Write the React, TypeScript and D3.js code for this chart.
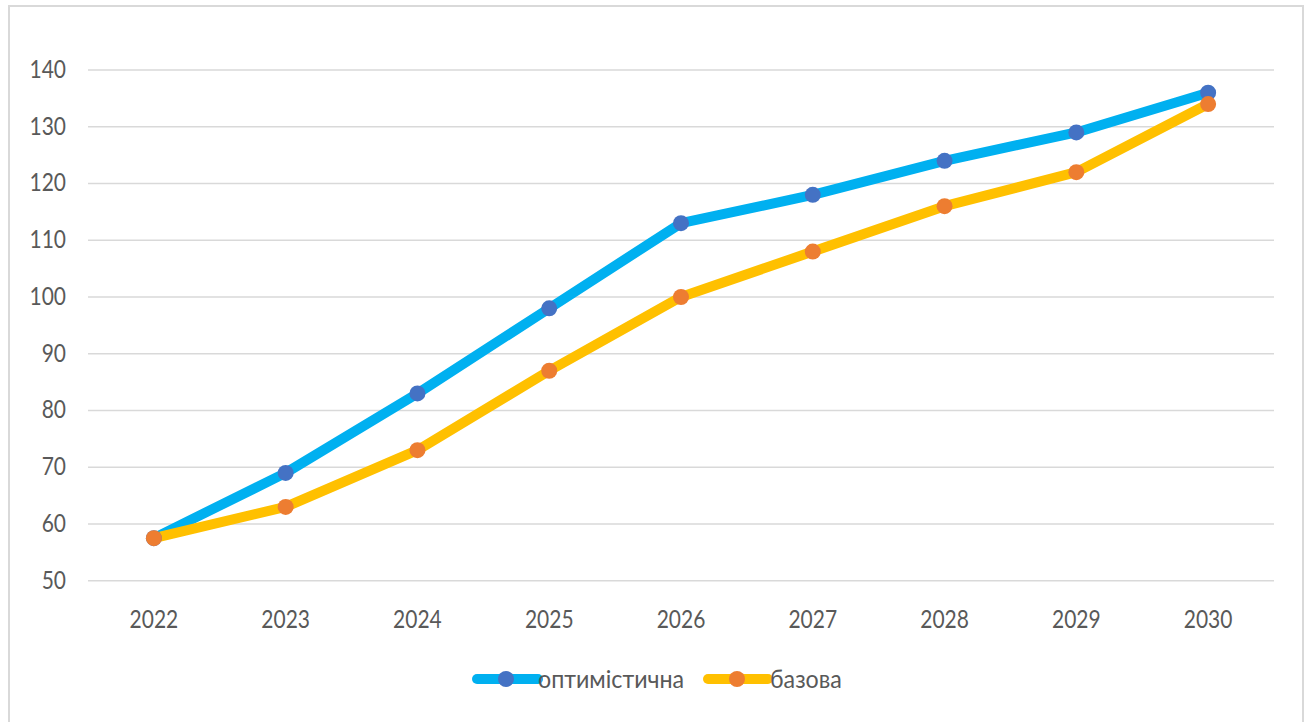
import React from "react";
import * as d3 from "d3";

const years = ["2022", "2023", "2024", "2025", "2026", "2027", "2028", "2029", "2030"];
const optimistic = [57.5, 69, 83, 98, 113, 118, 124, 129, 136];
const base = [57.5, 63, 73, 87, 100, 108, 116, 122, 134];
const yTicks = [50, 60, 70, 80, 90, 100, 110, 120, 130, 140];
const seriesNames = ["оптимістична", "базова"];

const W = 1308;
const H = 722;
const FONT = "Lato, 'Open Sans', sans-serif";
const TXT = "#595959";

function Label({ x, y, anchor, sx = 0.84, children }: { x: number; y: number; anchor: string; sx?: number; children: React.ReactNode }) {
  return (
    <text
      transform={`translate(${x},${y}) scale(${sx},1)`}
      textAnchor={anchor as any}
      fontFamily={FONT}
      fontSize={25}
      fill={TXT}
    >
      {children}
    </text>
  );
}

export default function App() {
  const x = d3.scaleBand<string>().domain(years).range([88, 1274]);
  const y = d3.scaleLinear().domain([50, 140]).range([580.7, 70]);
  const cx = (d: string) => (x(d) as number) + x.bandwidth() / 2;

  const line = d3
    .line<number>()
    .x((_, i) => cx(years[i]))
    .y((v) => y(v));

  const series = [
    { name: seriesNames[0], values: optimistic, lineColor: "#00B0F0", dot: "#4472C4" },
    { name: seriesNames[1], values: base, lineColor: "#FFC000", dot: "#ED7D31" },
  ];

  const legend = [
    { x0: 477, x1: 538, m: 506, tx: 538 },
    { x0: 708, x1: 768, m: 737, tx: 770 },
  ];

  return (
    <svg
      width={W}
      height={H}
      style={{ position: "absolute", left: 0, top: 0, background: "#fff" }}
    >
      <rect x={9} y={6} width={1294} height={730} fill="#fff" stroke="#D9D9D9" strokeWidth={2} />
      {yTicks.map((t) => (
        <g key={t}>
          <line x1={88} x2={1274} y1={y(t)} y2={y(t)} stroke="#D9D9D9" strokeWidth={1.5} />
          <Label x={66} y={y(t) + 8} anchor="end">
            {t}
          </Label>
        </g>
      ))}
      {years.map((yr) => (
        <Label key={yr} x={cx(yr)} y={628} anchor="middle">
          {yr}
        </Label>
      ))}
      {series.map((s) => (
        <g key={s.name}>
          <path
            d={line(s.values) || ""}
            fill="none"
            stroke={s.lineColor}
            strokeWidth={10}
            strokeLinejoin="round"
            strokeLinecap="round"
          />
        </g>
      ))}
      {series.map((s) => (
        <g key={s.name + "dots"}>
          {s.values.map((v, i) => (
            <circle key={i} cx={cx(years[i])} cy={y(v)} r={8} fill={s.dot} />
          ))}
        </g>
      ))}
      {series.map((s, i) => (
        <g key={s.name + "leg"}>
          <line
            x1={legend[i].x0}
            x2={legend[i].x1}
            y1={679}
            y2={679}
            stroke={s.lineColor}
            strokeWidth={10}
            strokeLinecap="round"
          />
          <circle cx={legend[i].m} cy={679} r={8} fill={s.dot} />
          <Label x={legend[i].tx} y={688} anchor="start" sx={0.93}>
            {s.name}
          </Label>
        </g>
      ))}
    </svg>
  );
}
